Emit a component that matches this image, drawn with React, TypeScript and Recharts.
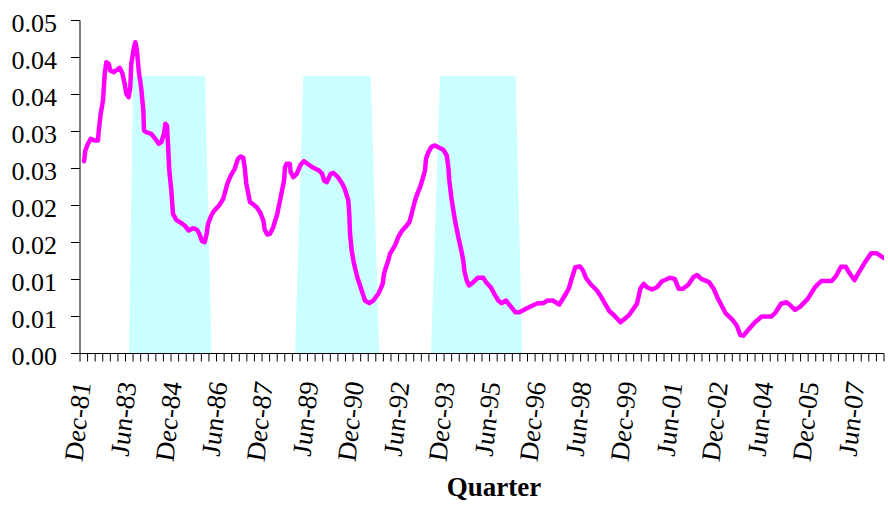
import React from "react";
import { ComposedChart, Area, Line, XAxis, YAxis, Label } from "recharts";

// line: position in quarters from Dec-81 (category centre = i + 0.5) and value
const lineQ = [
  0.53, 0.7, 1.05, 1.41, 1.94, 2.37, 2.47, 2.73, 3.03, 3.26, 3.47, 3.78, 3.99, 4.44, 5.23, 5.58,
  5.89, 6.1, 6.42, 6.63, 6.76, 7.08, 7.29, 7.51, 7.74, 8.08, 8.35, 8.44, 8.74, 9.4, 9.93, 10.38,
  10.72, 11.07, 11.25, 11.47, 11.6, 11.77, 12.04, 12.26, 12.7, 13.36, 13.8, 14.33, 14.9, 15.43,
  15.78, 16.08, 16.44, 16.7, 16.88, 17.31, 17.6, 18.33, 18.89, 19.42, 19.87, 20.4, 20.83, 21.19,
  21.53, 21.71, 21.93, 22.19, 22.41, 22.85, 23.3, 23.73, 24.17, 24.35, 24.69, 25.05, 25.48, 26.01,
  26.46, 26.9, 27.03, 27.25, 27.65, 27.78, 28.12, 28.57, 29.1, 29.53, 29.97, 30.63, 31.51, 31.94,
  32.17, 32.53, 33.05, 33.4, 34.01, 34.58, 34.9, 35.37, 35.5, 35.6, 35.82, 36.12, 36.56, 37.14,
  37.57, 38.14, 38.67, 39.33, 39.91, 40.08, 40.34, 40.65, 40.87, 41.53, 41.96, 42.41, 43.07, 43.42,
  43.73, 44.17, 44.47, 44.83, 45.18, 45.48, 45.62, 45.92, 46.37, 46.8, 47.37, 47.9, 48.35, 48.56,
  48.69, 49.01, 49.44, 49.88, 50.32, 50.53, 50.67, 50.98, 51.29, 51.85, 52.43, 53.17, 53.53, 54.15,
  54.62, 55.15, 55.6, 56.16, 56.69, 57.39, 57.92, 58.8, 59.68, 60.34, 61.08, 61.66, 62.32, 63.19,
  63.72, 64.43, 64.87, 65.3, 65.92, 66.36, 66.71, 67.3, 68.16, 68.78, 69.78, 70.44, 71.26, 72.34,
  73.43, 73.87, 74.32, 74.75, 75.41, 76.07, 76.73, 77.79, 78.41, 78.93, 79.5, 80.22, 80.88, 81.35,
  81.91, 82.93, 83.55, 84.02, 85.1, 86.0, 86.62, 87.05, 87.45, 88.2, 88.99, 89.88, 91.17, 91.72,
  92.42, 93.14, 93.61, 94.27, 94.92, 95.95, 96.9, 97.73, 99.08, 99.61, 100.33, 100.95, 101.45,
  102.11, 102.57, 103.37, 104.29, 105.01, 105.56, 105.94,
];
const lineV = [
  0.02599, 0.02743, 0.02834, 0.02901, 0.02878, 0.02878, 0.03014, 0.03239, 0.03419, 0.0378, 0.03937,
  0.03915, 0.03824, 0.03801, 0.03861, 0.03788, 0.03645, 0.0351, 0.03464, 0.03599, 0.03915, 0.04118,
  0.04207, 0.04095, 0.03824, 0.03577, 0.03284, 0.03014, 0.02991, 0.02969, 0.02901, 0.02834, 0.02856,
  0.02969, 0.03104, 0.03081, 0.02834, 0.02473, 0.02203, 0.01888, 0.01807, 0.01761, 0.0173, 0.01662,
  0.01693, 0.01672, 0.01608, 0.01518, 0.01504, 0.01618, 0.01753, 0.01865, 0.01919, 0.02, 0.02091,
  0.02293, 0.02405, 0.02496, 0.02631, 0.02662, 0.02645, 0.02518, 0.02293, 0.02158, 0.02045, 0.02014,
  0.01977, 0.0191, 0.01797, 0.01672, 0.01608, 0.01618, 0.01707, 0.01888, 0.02112, 0.02338, 0.02518,
  0.02564, 0.02564, 0.0245, 0.02383, 0.02428, 0.02554, 0.02599, 0.02564, 0.02518, 0.02473, 0.02428,
  0.02338, 0.02315, 0.02428, 0.02442, 0.02383, 0.02293, 0.02226, 0.02068, 0.01892, 0.01622, 0.01392,
  0.01216, 0.01031, 0.00851, 0.00716, 0.0068, 0.00716, 0.00807, 0.00942, 0.01077, 0.01166, 0.01257,
  0.01347, 0.0146, 0.01572, 0.01653, 0.0173, 0.01774, 0.01888, 0.02068, 0.02158, 0.02247, 0.02361,
  0.02473, 0.02631, 0.0272, 0.02797, 0.02811, 0.0278, 0.02753, 0.02676, 0.02518, 0.02338, 0.02068,
  0.01797, 0.01572, 0.01369, 0.01257, 0.01122, 0.00987, 0.00919, 0.00964, 0.01023, 0.01023, 0.00964,
  0.00896, 0.00807, 0.00716, 0.0068, 0.00716, 0.00649, 0.00558, 0.00558, 0.00604, 0.00649, 0.0068,
  0.0068, 0.00716, 0.00716, 0.00662, 0.0075, 0.00874, 0.01027, 0.01166, 0.01176, 0.01115, 0.0102,
  0.00939, 0.00851, 0.00753, 0.00574, 0.00514, 0.00423, 0.00514, 0.00672, 0.00874, 0.00942, 0.00896,
  0.00865, 0.00896, 0.00977, 0.01023, 0.01009, 0.00874, 0.00874, 0.00932, 0.01034, 0.01061, 0.01009,
  0.00964, 0.00874, 0.00761, 0.00547, 0.00459, 0.00372, 0.0025, 0.00241, 0.00331, 0.00423, 0.005,
  0.005, 0.00558, 0.00672, 0.00693, 0.00655, 0.00591, 0.00631, 0.00739, 0.00896, 0.0098, 0.0098,
  0.01037, 0.01172, 0.01172, 0.01088, 0.00991, 0.01077, 0.01212, 0.01355, 0.01355, 0.01318, 0.01291,
];

// cyan shaded periods (outline of the area)
const shadeQ = [6.46, 6.99, 16.48, 17.36, 28.35, 29.44, 38.33, 39.46, 46.28, 47.46, 57.44, 58.31];
const shadeV = [0, 0.0375, 0.0375, 0, 0, 0.0375, 0.0375, 0, 0, 0.0375, 0.0375, 0];

const quarterCount = 106;
const xLabels = [
  "Dec-81", "Jun-83", "Dec-84", "Jun-86", "Dec-87", "Jun-89", "Dec-90", "Jun-92", "Dec-93",
  "Jun-95", "Dec-96", "Jun-98", "Dec-99", "Jun-01", "Dec-02", "Jun-04", "Dec-05", "Jun-07",
];
const yTicks = [0, 0.005, 0.01, 0.015, 0.02, 0.025, 0.03, 0.035, 0.04, 0.045];
const yTickLabels = ["0.00", "0.01", "0.01", "0.02", "0.02", "0.03", "0.03", "0.04", "0.04", "0.05"];

const data = [
  ...lineQ.map((t, i) => ({ t, v: lineV[i] })),
  ...shadeQ.map((t, i) => ({ t, s: shadeV[i] })),
].sort((a, b) => a.t - b.t);

const labelTicks = xLabels.map((_, k) => k * 6 + 0.5);
const markTicks = Array.from({ length: quarterCount + 1 }, (_, i) => i);
const xTicks = [...markTicks, ...labelTicks].sort((a, b) => a - b);

const FONT = "'Liberation Serif', 'Times New Roman', serif";

const XTick = (props: any) => {
  const { x, y, payload } = props;
  const v = payload.value;
  if (Number.isInteger(v)) {
    return <line x1={x} y1={y - 8} x2={x} y2={y} stroke="#000" />;
  }
  const k = labelTicks.indexOf(v);
  if (k < 0) return null;
  return (
    <g transform={`translate(${x},382) rotate(-90) skewY(6)`}>
      <text x={0} y={7} textAnchor="end" fontFamily={FONT} fontSize={27} fontStyle="italic" fill="#000">
        {xLabels[k]}
      </text>
    </g>
  );
};

const YTick = (props: any) => {
  const { x, y, payload, index } = props;
  const k = yTicks.indexOf(payload.value);
  return (
    <text x={x} y={y} dy={11} textAnchor="end" fontFamily={FONT} fontSize={26} fill="#000">
      {yTickLabels[k >= 0 ? k : index]}
    </text>
  );
};

const QuarterTitle = (props: any) => {
  const { viewBox } = props;
  return (
    <text
      x={viewBox.x + viewBox.width / 2 + 12}
      y={viewBox.y + viewBox.height - 10}
      textAnchor="middle"
      fontFamily={FONT}
      fontSize={27}
      fontWeight="bold"
      fill="#000"
    >
      Quarter
    </text>
  );
};

export default function App() {
  return (
    <div style={{ position: "absolute", left: 0, top: 0, background: "#fff" }}>
      <ComposedChart width={888} height={506} data={data} margin={{ top: 20.5, right: 4, left: 0, bottom: 0 }}>
        <XAxis
          dataKey="t"
          type="number"
          domain={[0, quarterCount]}
          allowDataOverflow
          ticks={xTicks}
          interval={0}
          tickLine={false}
          tickSize={8}
          tickMargin={0}
          tick={<XTick />}
          axisLine={{ stroke: "#000" }}
          height={152.5}
        >
          <Label content={<QuarterTitle />} />
        </XAxis>
        <YAxis
          type="number"
          domain={[0, 0.045]}
          ticks={yTicks}
          interval={0}
          width={80}
          tickSize={9}
          tickMargin={14}
          tick={<YTick />}
          tickLine={{ stroke: "#000" }}
          axisLine={{ stroke: "#000" }}
        />
        <Area
          dataKey="s"
          type="linear"
          fill="#CCFFFF"
          fillOpacity={1}
          stroke="none"
          connectNulls
          isAnimationActive={false}
          activeDot={false}
        />
        <Line
          dataKey="v"
          type="linear"
          stroke="#FF00FF"
          strokeWidth={4.5}
          strokeLinejoin="round"
          strokeLinecap="round"
          dot={false}
          activeDot={false}
          connectNulls
          isAnimationActive={false}
        />
      </ComposedChart>
    </div>
  );
}
